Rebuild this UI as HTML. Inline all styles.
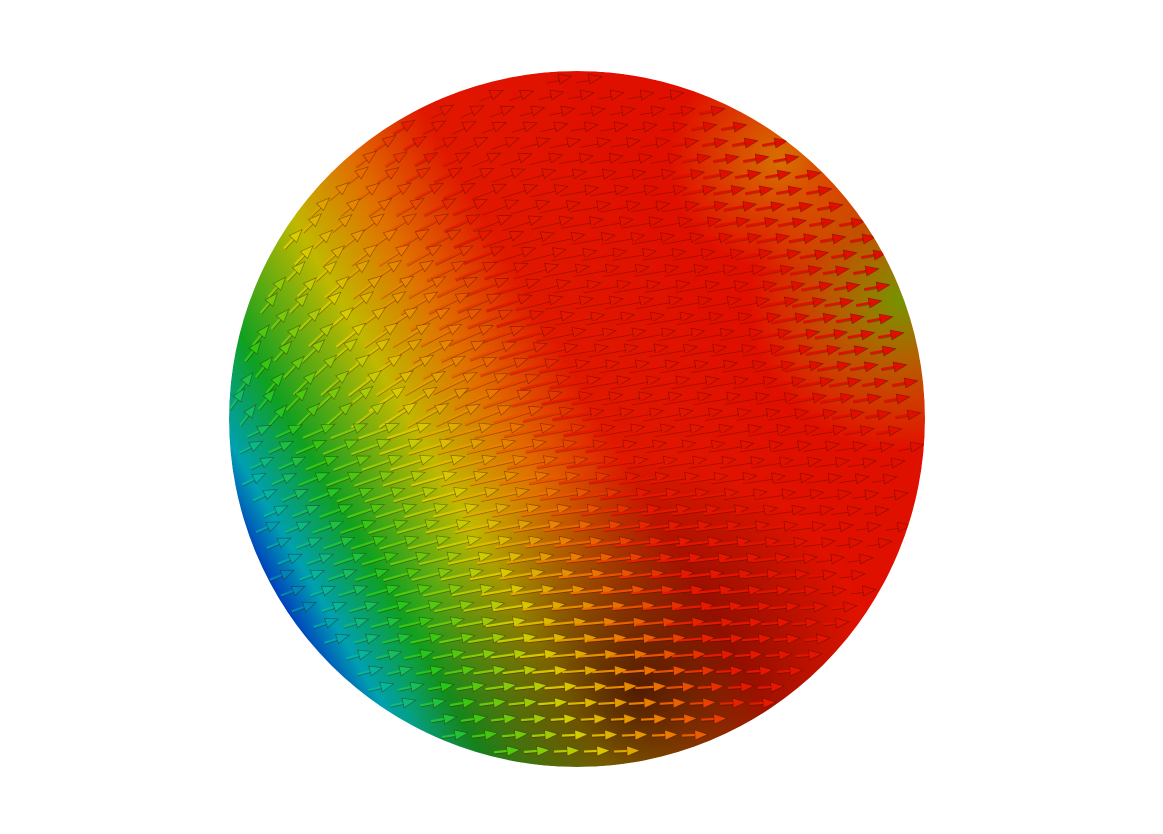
<!DOCTYPE html>
<html><head><meta charset="utf-8"><style>
html,body{margin:0;padding:0;background:#fff;width:1163px;height:834px;overflow:hidden}
</style></head><body>
<svg width="1163" height="834" viewBox="0 0 1163 834">
<defs>
<linearGradient id="band" gradientUnits="userSpaceOnUse" x1="250" y1="560" x2="700" y2="300">
<stop offset="0" stop-color="#0030c0"/>
<stop offset="0.08" stop-color="#00a0b0"/>
<stop offset="0.2" stop-color="#10a020"/>
<stop offset="0.4" stop-color="#c0b800"/>
<stop offset="0.55" stop-color="#e07000"/>
<stop offset="0.72" stop-color="#e01800"/>
<stop offset="1" stop-color="#e01000"/>
</linearGradient>
<radialGradient id="shade" gradientUnits="userSpaceOnUse" cx="640" cy="690" r="230">
<stop offset="0" stop-color="#300400" stop-opacity="0.8"/>
<stop offset="1" stop-color="#300400" stop-opacity="0"/>
</radialGradient>
<radialGradient id="rightgreen" gradientUnits="userSpaceOnUse" cx="900" cy="300" r="150">
<stop offset="0" stop-color="#50c000" stop-opacity="0.75"/>
<stop offset="1" stop-color="#c0c000" stop-opacity="0"/>
</radialGradient>
<radialGradient id="topyellow" gradientUnits="userSpaceOnUse" cx="780" cy="160" r="110">
<stop offset="0" stop-color="#d0b000" stop-opacity="0.6"/>
<stop offset="1" stop-color="#d0b000" stop-opacity="0"/>
</radialGradient>
<clipPath id="sph"><circle cx="577" cy="419" r="348"/></clipPath>
</defs>
<g clip-path="url(#sph)">
<circle cx="577" cy="419" r="348" fill="url(#band)"/>
<circle cx="577" cy="419" r="348" fill="url(#rightgreen)"/>
<circle cx="577" cy="419" r="348" fill="url(#topyellow)"/>
<circle cx="577" cy="419" r="348" fill="url(#shade)"/>
<g id="cones"></g>
</g>
</svg>
<script>
const cx=577, cy=419, R=348;
const NS='http://www.w3.org/2000/svg';
const g=document.getElementById('cones');
function col(t){
  const stops=[[0,[0,60,210]],[0.1,[0,180,170]],[0.22,[40,200,20]],[0.4,[215,205,0]],[0.55,[235,120,0]],[0.7,[230,25,0]],[1,[225,15,0]]];
  t=Math.max(0,Math.min(1,t));
  for(let i=1;i<stops.length;i++){if(t<=stops[i][0]){const a=stops[i-1],b=stops[i];const f=(t-a[0])/(b[0]-a[0]);
    return 'rgb('+a[1].map((v,k)=>Math.round(v+(b[1][k]-v)*f)).join(',')+')';}}
  return 'rgb(225,15,0)';
}
let row=0;
for(let y=cy-R+8;y<cy+R;y+=16,row++){
  for(let x=cx-R;x<cx+R;x+=30){
    const ox=x+(row%2)*15+((row*7)%11), dx=ox-cx, dy=y-cy;
    const rr=(dx*dx+dy*dy)/(R*R);
    if(rr>0.96) continue;
    const u=((ox-250)*0.866-(y-560)*0.5)/520;
    const left=Math.max(0,-dx/R);
    const deg=-10-45*left*(dy<0?1:0.4)+ (dy>0?8*dy/R:0);
    const L=52*Math.sqrt(Math.max(0.25,1-rr));
    const grp=document.createElementNS(NS,'g');
    grp.setAttribute('transform',`translate(${ox},${y}) rotate(${deg})`);
    
    
    const c=col(u+0.02);
    const sh=document.createElementNS(NS,'line');
    sh.setAttribute('x1',-L/2);sh.setAttribute('y1',0);sh.setAttribute('x2',L/2-10);sh.setAttribute('y2',0);
    sh.setAttribute('stroke',c);sh.setAttribute('stroke-width','2.2');
    
    
    const hd=document.createElementNS(NS,'polygon');
    hd.setAttribute('points',`${L/2},0 ${L/2-13},-5 ${L/2-13},5`);
    hd.setAttribute('fill',c);
    hd.setAttribute('stroke','rgba(50,10,0,0.45)');hd.setAttribute('stroke-width','0.7');
    
    
    const dk=document.createElementNS(NS,'line');
    dk.setAttribute('x1',-L/2);dk.setAttribute('y1',1.5);dk.setAttribute('x2',L/2-10);dk.setAttribute('y2',1.5);
    dk.setAttribute('stroke','rgba(60,10,0,0.35)');dk.setAttribute('stroke-width','1');
    
    
    grp.appendChild(dk);grp.appendChild(sh);grp.appendChild(hd);
    g.appendChild(grp);
  }
}
</script>
</body></html>
